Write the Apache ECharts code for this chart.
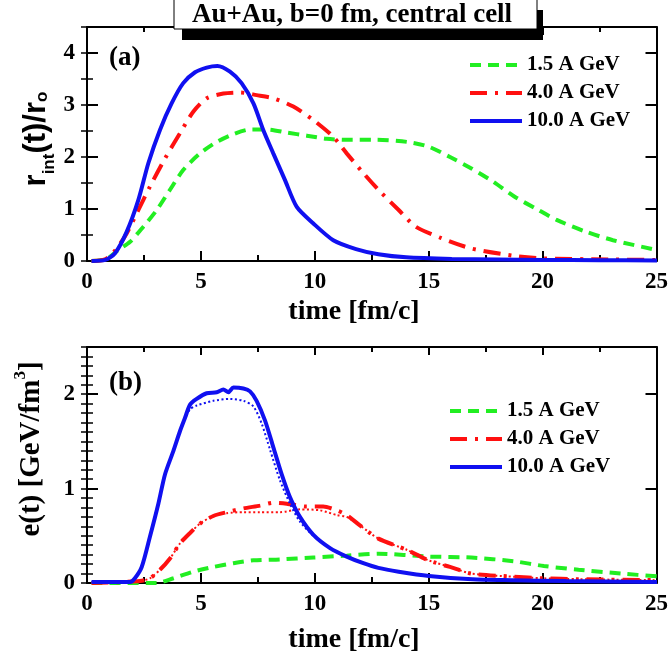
<!DOCTYPE html>
<html>
<head>
<meta charset="utf-8">
<script src="https://cdn.jsdelivr.net/npm/echarts@6/dist/echarts.min.js"></script>
<style>
html,body{margin:0;padding:0;background:#fff}
#wrap{position:relative;width:671px;height:659px}
#frame,#c{position:absolute;left:0;top:0;width:671px;height:659px}
</style>
</head>
<body>
<div id="wrap"><div id="frame"></div><div id="c"></div></div>
<script>
// ---------- data ----------
const seriesNames = ['1.5 A GeV', '4.0 A GeV', '10.0 A GeV'];
const xTickInterval = 5;

// panel (a): r_int(t)/r_0
const aGreenT = [0.2,0.86,1.37,1.89,2.47,3.06,3.64,4.22,4.96,5.69,6.42,7.15,7.88,8.76,9.64,10.51,11.39,12.7,14.04,14.98,15.92,16.86,17.8,18.74,19.68,20.6,21.9,23.07,25];
const aGreenV = [0,0.04,0.21,0.37,0.66,0.98,1.37,1.75,2.07,2.29,2.44,2.53,2.53,2.47,2.41,2.35,2.33,2.33,2.29,2.2,2.0,1.78,1.53,1.24,1.01,0.79,0.56,0.40,0.21];
const aRedT = [0.2,0.79,1.23,1.74,2.25,2.76,3.42,4.08,4.66,5.25,5.98,6.71,7.44,8.17,9.05,9.93,10.8,11.39,12.12,12.78,13.67,14.42,15.54,16.86,18.74,20.04,22.9,25];
const aRedV = [0,0.03,0.2,0.53,0.98,1.43,1.97,2.46,2.87,3.13,3.22,3.24,3.19,3.13,2.97,2.71,2.39,2.07,1.69,1.37,0.98,0.66,0.44,0.24,0.10,0.05,0.03,0.02];
const aBlueT = [0.2,0.8,1.23,1.74,2.25,2.69,3.2,3.71,4.22,4.74,5.25,5.72,6.27,6.78,7.3,7.73,8.17,8.68,9.2,9.93,10.8,11.8,12.78,14,16,18,20,22.5,25];
const aBlueV = [0,0.02,0.15,0.56,1.17,1.88,2.52,3.03,3.42,3.63,3.72,3.75,3.64,3.42,3.03,2.52,2.07,1.56,1.04,0.72,0.40,0.23,0.13,0.07,0.04,0.03,0.02,0.015,0.01];

// panel (b): e(t) [GeV/fm^3]
const bGreenT = [0.2,3.06,3.79,4.66,5.54,6.42,7.3,8.46,9.93,11.39,12.78,14.98,16.86,18.74,20.04,21.56,23.44,25];
const bGreenV = [0,0,0.05,0.12,0.17,0.21,0.24,0.25,0.27,0.29,0.31,0.28,0.27,0.23,0.18,0.14,0.10,0.07];
const bRedT = [0.2,2.32,2.76,3.2,3.64,4.08,4.52,4.96,5.54,6.13,6.86,7.59,8.17,8.76,9.64,10.36,10.95,11.39,11.97,12.78,14.04,14.98,15.92,16.86,18.7,20,21.6,25];
const bRedV = [0,0.02,0.05,0.14,0.26,0.42,0.53,0.63,0.71,0.75,0.79,0.82,0.85,0.84,0.81,0.81,0.77,0.72,0.61,0.47,0.35,0.24,0.17,0.10,0.067,0.05,0.04,0.03];
const bRedDotT = [0.2,2.32,2.76,3.2,3.64,4.08,4.52,4.96,5.54,6.13,6.86,7.59,8.46,9.34,10.22,10.95,11.39,11.97,12.78,14.04,14.98,15.92,16.86,18.7,20,21.6,25];
const bRedDotV = [0,0.02,0.05,0.14,0.26,0.42,0.53,0.63,0.71,0.74,0.75,0.75,0.75,0.78,0.77,0.72,0.70,0.61,0.47,0.35,0.24,0.17,0.10,0.067,0.05,0.04,0.03];
const bBlueT = [0.2,1.89,2.1,2.4,2.76,3.13,3.42,3.79,4.08,4.3,4.52,4.81,5.25,5.69,5.98,6.2,6.42,6.86,7.15,7.44,7.81,8.17,8.54,8.9,9.34,9.93,10.66,11.39,12.12,12.78,13.67,15,16.9,18.7,21,25];
const bBlueV = [0.01,0.01,0.05,0.17,0.49,0.84,1.15,1.40,1.61,1.75,1.89,1.95,2.01,2.02,2.05,2.02,2.07,2.06,2.03,1.93,1.72,1.44,1.15,0.91,0.70,0.51,0.37,0.28,0.21,0.16,0.12,0.075,0.04,0.03,0.02,0.01];
const bBlueDotT = [0.2,1.89,2.1,2.4,2.76,3.13,3.42,3.79,4.08,4.3,4.52,4.81,5.54,6.27,6.86,7.3,7.66,8.03,8.46,8.9,9.34,9.93,10.66,11.39,12.12,12.78,13.67,15,16.9,18.7,21,25];
const bBlueDotV = [0.01,0.01,0.05,0.17,0.49,0.84,1.15,1.40,1.60,1.74,1.84,1.88,1.93,1.95,1.93,1.87,1.69,1.41,1.09,0.84,0.65,0.50,0.37,0.28,0.21,0.16,0.12,0.075,0.04,0.03,0.02,0.01];

// ---------- styling ----------
const GREEN = '#22ee22', RED = '#ff1010', BLUE = '#1010f0';
const SERIF = '"Liberation Serif", "Times New Roman", serif';
const SANS = '"Liberation Sans", Arial, sans-serif';

function pairs(t, v) { return t.map((x, i) => [x, v[i]]); }

const gridA = { left: 87, right: 14, top: 27, height: 234 };
const gridB = { left: 87, right: 14, top: 347, height: 236 };

const labelStyle = { fontFamily: SERIF, fontWeight: 'bold', fontSize: 23, color: '#000' };
const axisLineStyle = { show: true, onZero: false, lineStyle: { color: '#000', width: 2 } };
const tick = (len, w) => ({ show: true, inside: true, length: len, lineStyle: { color: '#000', width: w } });

// ----- frame chart: boxed axes with inward ticks on all four sides -----
function xAxes(grid) {
  return [
    { type: 'value', gridIndex: grid, position: 'bottom', min: 0, max: 25, interval: xTickInterval,
      axisLine: axisLineStyle, splitLine: { show: false }, minorSplitLine: { show: false },
      axisTick: tick(10, 2),
      minorTick: { show: true, splitNumber: 2, length: 6, lineStyle: { color: '#000', width: 2 } },
      axisLabel: Object.assign({ show: true, margin: 10 }, labelStyle) },
    { type: 'value', gridIndex: grid, position: 'top', min: 0, max: 25, interval: xTickInterval,
      axisLine: axisLineStyle, splitLine: { show: false }, minorSplitLine: { show: false },
      axisTick: tick(8, 2),
      minorTick: { show: true, splitNumber: 2, length: 5, lineStyle: { color: '#000', width: 2 } },
      axisLabel: { show: false } }
  ];
}
function yAxes(grid, max, minorInterval) {
  const base = { type: 'value', gridIndex: grid, min: 0, max: max, splitLine: { show: false } };
  return [
    Object.assign({}, base, { position: 'left', interval: 1, axisLine: axisLineStyle,
      axisTick: tick(11, 2), axisLabel: Object.assign({ show: true, margin: 12, showMaxLabel: false }, labelStyle) }),
    Object.assign({}, base, { position: 'left', interval: minorInterval, axisLine: { show: false },
      axisTick: tick(6, 1.5), axisLabel: { show: false } }),
    Object.assign({}, base, { position: 'right', interval: 1, axisLine: axisLineStyle,
      axisTick: tick(11, 2), axisLabel: { show: false } }),
    Object.assign({}, base, { position: 'right', interval: minorInterval, axisLine: { show: false },
      axisTick: tick(6, 1.5), axisLabel: { show: false } })
  ];
}
const frameOption = {
  animation: false,
  backgroundColor: '#fff',
  grid: [gridA, gridB],
  xAxis: xAxes(0).concat(xAxes(1)),
  yAxis: yAxes(0, 4.5, 0.5).concat(yAxes(1, 2.5, 0.1)),
  // invisible carrier series so both frame grids are active
  series: [
    { type: 'line', name: 'frameA', symbol: 'none', silent: true, xAxisIndex: 0, yAxisIndex: 0, data: pairs(aGreenT, aGreenV), lineStyle: { color: '#fff', width: 0, opacity: 0 } },
    { type: 'line', name: 'frameB', symbol: 'none', silent: true, xAxisIndex: 2, yAxisIndex: 4, data: pairs(bGreenT, bGreenV), lineStyle: { color: '#fff', width: 0, opacity: 0 } }
  ]
};

// ----- data chart: same grids and scales, hidden axes, curves + legends + texts -----
const hiddenX = g => ({ type: 'value', gridIndex: g, min: 0, max: 25, interval: xTickInterval, show: false });
const hiddenY = (g, max) => ({ type: 'value', gridIndex: g, min: 0, max: max, interval: 1, show: false });

const richA = {
  m: { fontFamily: SANS, fontWeight: 'bold', fontSize: 31, lineHeight: 44, fill: '#000' },
  s: { fontFamily: SANS, fontWeight: 'bold', fontSize: 17, lineHeight: 17, verticalAlign: 'bottom', fill: '#000' },
  o: { fontFamily: SANS, fontWeight: 'bold', fontSize: 17, lineHeight: 17, verticalAlign: 'bottom', padding: [0, 0, 7, 0], fill: '#000' }
};
const richB = {
  m: { fontFamily: SERIF, fontWeight: 'bold', fontSize: 29, lineHeight: 40, fill: '#000' },
  p: { fontFamily: SERIF, fontWeight: 'bold', fontSize: 17, lineHeight: 17, verticalAlign: 'top', fill: '#000' }
};
const xNameStyle = { text: 'time [fm/c]', fontFamily: SERIF, fontWeight: 'bold', fontSize: 28, fill: '#000', textAlign: 'center', textVerticalAlign: 'middle' };

const greenStyle = { color: GREEN, width: 4, type: [11, 7] };
const redStyle = { color: RED, width: 4, type: [17, 8, 3, 8] };
const blueStyle = { color: BLUE, width: 4, type: 'solid' };
const dotStyle = c => ({ color: c, width: 2, type: [2, 2.5] });

function line(name, data, xi, yi, ls) {
  return { type: 'line', name: name, data: data, xAxisIndex: xi, yAxisIndex: yi, showSymbol: false, symbol: 'none',
    smooth: 0.25, lineStyle: ls, itemStyle: { color: ls.color } };
}

const legendCommon = {
  orient: 'vertical', itemWidth: 52, itemHeight: 14, itemGap: 6,
  itemStyle: { opacity: 0 },
  lineStyle: { width: 4 },
  textStyle: { fontFamily: SERIF, fontWeight: 'bold', fontSize: 21, lineHeight: 22, color: '#000' }
};

const option = {
  animation: false,
  backgroundColor: 'transparent',
  grid: [gridA, gridB],
  xAxis: [hiddenX(0), hiddenX(1)],
  yAxis: [hiddenY(0, 4.5), hiddenY(1, 2.5)],
  legend: [
    Object.assign({}, legendCommon, { left: 463, top: 49, data: seriesNames }),
    Object.assign({}, legendCommon, { left: 443, top: 395, data: seriesNames })
  ],
  series: [
    line(seriesNames[0], pairs(aGreenT, aGreenV), 0, 0, greenStyle),
    line(seriesNames[1], pairs(aRedT, aRedV), 0, 0, redStyle),
    line(seriesNames[2], pairs(aBlueT, aBlueV), 0, 0, blueStyle),
    line('e-green', pairs(bGreenT, bGreenV), 1, 1, greenStyle),
    line('e-red-dot', pairs(bRedDotT, bRedDotV), 1, 1, dotStyle(RED)),
    line('e-red', pairs(bRedT, bRedV), 1, 1, redStyle),
    line('e-blue-dot', pairs(bBlueDotT, bBlueDotV), 1, 1, dotStyle(BLUE)),
    line('e-blue', pairs(bBlueT, bBlueV), 1, 1, blueStyle)
  ],
  graphic: [
    { type: 'rect', z: 100, shape: { x: 182, y: 10, width: 361, height: 30 }, style: { fill: '#000' } },
    { type: 'rect', z: 101, shape: { x: 174, y: -1, width: 363, height: 30 }, style: { fill: '#fff', stroke: '#000', lineWidth: 1 } },
    { type: 'text', z: 102, x: 352, y: 15, style: { text: 'Au+Au, b=0 fm, central cell', fontFamily: SERIF, fontWeight: 'bold', fontSize: 27, fill: '#000', textAlign: 'center', textVerticalAlign: 'middle' } },
    { type: 'text', z: 102, x: 109, y: 58, style: { text: '(a)', fontFamily: SERIF, fontWeight: 'bold', fontSize: 27, fill: '#000', textAlign: 'left', textVerticalAlign: 'middle' } },
    { type: 'text', z: 102, x: 109, y: 383, style: { text: '(b)', fontFamily: SERIF, fontWeight: 'bold', fontSize: 27, fill: '#000', textAlign: 'left', textVerticalAlign: 'middle' } },
    { type: 'text', z: 102, x: 354, y: 312, style: xNameStyle },
    { type: 'text', z: 102, x: 354, y: 640, style: xNameStyle },
    { type: 'text', z: 102, x: 36, y: 139, rotation: Math.PI / 2,
      style: { text: '{m|r}{s|int}{m|(t)/r}{o|o}', rich: richA, textAlign: 'center', textVerticalAlign: 'middle' } },
    { type: 'text', z: 102, x: 32, y: 449, rotation: Math.PI / 2,
      style: { text: '{m|e(t) [GeV/fm}{p|3}{m|]}', rich: richB, textAlign: 'center', textVerticalAlign: 'middle' } }
  ]
};

const frame = echarts.init(document.getElementById('frame'));
frame.setOption(frameOption);
const chart = echarts.init(document.getElementById('c'));
chart.setOption(option);
</script>
</body>
</html>
